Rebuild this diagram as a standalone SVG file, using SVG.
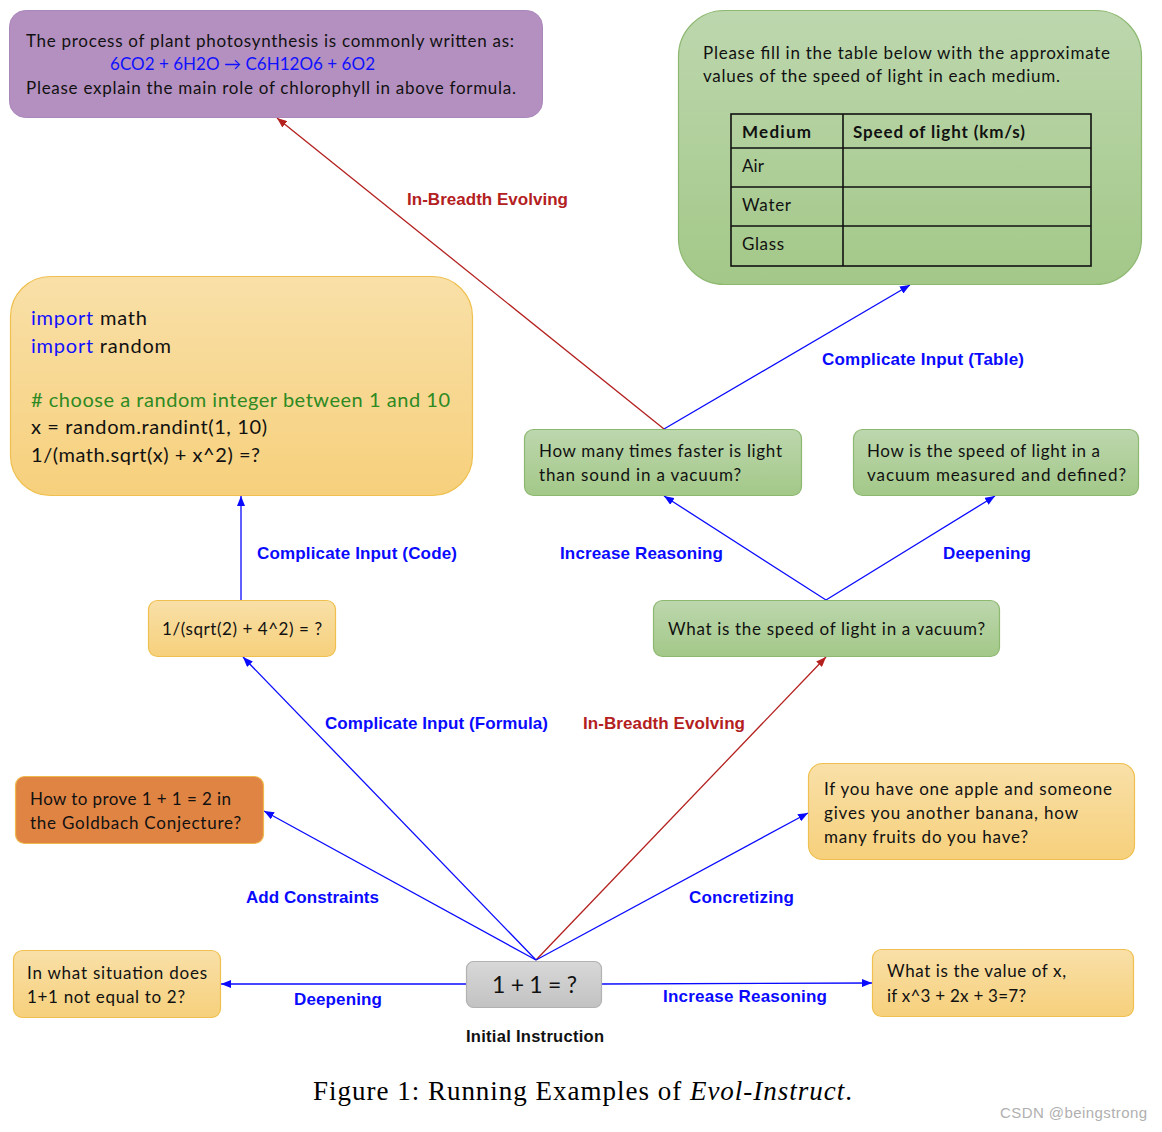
<svg xmlns="http://www.w3.org/2000/svg" width="1162" height="1132" viewBox="0 0 1162 1132">
<style>
.body{font-family:Lato,"Liberation Sans",sans-serif;font-size:17px;fill:#111}
.code{font-family:Lato,"Liberation Sans",sans-serif;font-size:20px;fill:#111}
.lbl{font-family:"Liberation Sans",Arial,sans-serif;font-size:17px;font-weight:bold}
.blue{fill:#0a0aff}
.red{fill:#b3201e}
.cb{stroke:#0a0aff;stroke-width:1.3;fill:none}
.cr{stroke:#b3201e;stroke-width:1.3;fill:none}
.yel{fill:url(#gy);stroke:#efc04f;stroke-width:1.2}
.grn{fill:url(#gg);stroke:#8cb870;stroke-width:1.2}
.tbl{stroke:#111;stroke-width:1.6;fill:none}
</style>
<defs>
<linearGradient id="gy" x1="0" y1="0" x2="0" y2="1"><stop offset="0" stop-color="#f9e0a8"/><stop offset="1" stop-color="#f6d07c"/></linearGradient>
<linearGradient id="gg" x1="0" y1="0" x2="0" y2="1"><stop offset="0" stop-color="#bdd7ae"/><stop offset="1" stop-color="#a3c888"/></linearGradient>
<linearGradient id="gr" x1="0" y1="0" x2="0" y2="1"><stop offset="0" stop-color="#d8d8d8"/><stop offset="1" stop-color="#c2c2c2"/></linearGradient>
<marker id="ab" markerUnits="userSpaceOnUse" markerWidth="10" markerHeight="8" refX="10" refY="4" orient="auto"><path d="M0,0 L10,4 L0,8 z" fill="#0a0aff"/></marker>
<marker id="ar" markerUnits="userSpaceOnUse" markerWidth="10" markerHeight="8" refX="10" refY="4" orient="auto"><path d="M0,0 L10,4 L0,8 z" fill="#b3201e"/></marker>
</defs>
<rect width="1162" height="1132" fill="#fff"/>

<g id="connectors">
<line class="cr" x1="664" y1="429" x2="277" y2="118" marker-end="url(#ar)"/>
<line class="cb" x1="664" y1="429" x2="910" y2="285" marker-end="url(#ab)"/>
<line class="cb" x1="826" y1="600" x2="664" y2="496" marker-end="url(#ab)"/>
<line class="cb" x1="826" y1="600" x2="995" y2="496" marker-end="url(#ab)"/>
<line class="cb" x1="241" y1="600" x2="241" y2="496" marker-end="url(#ab)"/>
<line class="cb" x1="536" y1="960" x2="243" y2="657" marker-end="url(#ab)"/>
<line class="cr" x1="536" y1="960" x2="826" y2="657" marker-end="url(#ar)"/>
<line class="cb" x1="536" y1="960" x2="264" y2="811" marker-end="url(#ab)"/>
<line class="cb" x1="536" y1="960" x2="808" y2="813" marker-end="url(#ab)"/>
<line class="cb" x1="466" y1="984" x2="221" y2="984" marker-end="url(#ab)"/>
<line class="cb" x1="602" y1="984" x2="872" y2="983" marker-end="url(#ab)"/>
<text class="lbl red" x="407" y="205" textLength="161">In-Breadth Evolving</text>
<text class="lbl blue" x="822" y="365" textLength="202">Complicate Input (Table)</text>
<text class="lbl blue" x="257" y="559" textLength="200">Complicate Input (Code)</text>
<text class="lbl blue" x="560" y="559" textLength="163">Increase Reasoning</text>
<text class="lbl blue" x="943" y="559" textLength="88">Deepening</text>
<text class="lbl blue" x="325" y="729" textLength="223">Complicate Input (Formula)</text>
<text class="lbl red" x="583" y="729" textLength="162">In-Breadth Evolving</text>
<text class="lbl blue" x="246" y="903" textLength="133">Add Constraints</text>
<text class="lbl blue" x="689" y="903" textLength="105">Concretizing</text>
<text class="lbl blue" x="294" y="1005" textLength="88">Deepening</text>
<text class="lbl blue" x="663" y="1002" textLength="164">Increase Reasoning</text>
</g>

<g id="node-photosynthesis">
<rect x="9.5" y="10.5" width="533" height="107" rx="16" fill="#b490c0" stroke="#a888b8"/>
<text class="body" x="26" y="47" textLength="488">The process of plant photosynthesis is commonly written as:</text>
<text class="body" x="110" y="70" textLength="265" style="fill:#1010ff">6CO2 + 6H2O → C6H12O6 + 6O2</text>
<text class="body" x="26" y="94" textLength="490">Please explain the main role of chlorophyll in above formula.</text>
</g>

<g id="node-table">
<rect x="678.5" y="10.5" width="463" height="274" rx="46" class="grn"/>
<text class="body" x="703" y="59" textLength="407">Please fill in the table below with the approximate</text>
<text class="body" x="703" y="82" textLength="357">values of the speed of light in each medium.</text>
<rect class="tbl" x="731" y="114" width="360" height="152"/>
<line class="tbl" x1="843" y1="114" x2="843" y2="266"/>
<line class="tbl" x1="731" y1="148" x2="1091" y2="148"/>
<line class="tbl" x1="731" y1="187" x2="1091" y2="187"/>
<line class="tbl" x1="731" y1="226" x2="1091" y2="226"/>
<text class="body" x="742" y="138" font-weight="bold" textLength="69">Medium</text>
<text class="body" x="853" y="138" font-weight="bold" textLength="172">Speed of light (km/s)</text>
<text class="body" x="742" y="172" textLength="22">Air</text>
<text class="body" x="742" y="211" textLength="49">Water</text>
<text class="body" x="742" y="250" textLength="42">Glass</text>
</g>

<g id="node-code">
<rect x="10.5" y="276.5" width="462" height="219" rx="40" class="yel"/>
<text class="code" x="31" y="325" textLength="116"><tspan fill="#1010ff">import</tspan> math</text>
<text class="code" x="31" y="353" textLength="140"><tspan fill="#1010ff">import</tspan> random</text>
<text class="code" x="31" y="407" textLength="419" style="fill:#2d8a23"># choose a random integer between 1 and 10</text>
<text class="code" x="31" y="434" textLength="236">x = random.randint(1, 10)</text>
<text class="code" x="31" y="462" textLength="229">1/(math.sqrt(x) + x^2) =?</text>
</g>

<g id="node-faster">
<rect x="524.5" y="429.5" width="277" height="66" rx="9" class="grn"/>
<text class="body" x="539" y="457" textLength="243">How many times faster is light</text>
<text class="body" x="539" y="481" textLength="202">than sound in a vacuum?</text>
</g>

<g id="node-measured">
<rect x="853.5" y="429.5" width="285" height="66" rx="9" class="grn"/>
<text class="body" x="867" y="457" textLength="233">How is the speed of light in a</text>
<text class="body" x="867" y="481" textLength="259">vacuum measured and defined?</text>
</g>

<g id="node-speed">
<rect x="653.5" y="600.5" width="346" height="56" rx="9" class="grn"/>
<text class="body" x="668" y="635" textLength="317">What is the speed of light in a vacuum?</text>
</g>

<g id="node-formula">
<rect x="148.5" y="600.5" width="187" height="56" rx="9" class="yel"/>
<text class="body" x="162" y="635" textLength="160">1/(sqrt(2) + 4^2) = ?</text>
</g>

<g id="node-goldbach">
<rect x="15.5" y="776.5" width="248" height="67" rx="9" fill="#e08444" stroke="#efb84c" stroke-width="1.2"/>
<text class="body" x="30" y="805" textLength="201">How to prove 1 + 1 = 2 in</text>
<text class="body" x="30" y="829" textLength="211">the Goldbach Conjecture?</text>
</g>

<g id="node-apple">
<rect x="808.5" y="763.5" width="326" height="96" rx="14" class="yel"/>
<text class="body" x="824" y="795" textLength="288">If you have one apple and someone</text>
<text class="body" x="824" y="819" textLength="254">gives you another banana, how</text>
<text class="body" x="824" y="843" textLength="204">many fruits do you have?</text>
</g>

<g id="node-situation">
<rect x="13.5" y="950.5" width="207" height="67" rx="9" class="yel"/>
<text class="body" x="27" y="979" textLength="180">In what situation does</text>
<text class="body" x="27" y="1003" textLength="158">1+1 not equal to 2?</text>
</g>

<g id="node-initial">
<rect x="466.5" y="961.5" width="135" height="46" rx="7" fill="url(#gr)" stroke="#b2b2b2" stroke-width="1.2"/>
<text x="492" y="993" font-family="Lato,'Liberation Sans',sans-serif" font-size="23" fill="#111" textLength="85">1 + 1 = ?</text>
<text x="466" y="1042" font-family="'Liberation Sans',Arial,sans-serif" font-size="16.5" font-weight="bold" fill="#111" textLength="138">Initial Instruction</text>
</g>

<g id="node-value">
<rect x="872.5" y="949.5" width="261" height="67" rx="9" class="yel"/>
<text class="body" x="887" y="977" textLength="179">What is the value of x,</text>
<text class="body" x="887" y="1002" textLength="139">if x^3 + 2x + 3=7?</text>
</g>

<text x="313" y="1100" font-family="'Liberation Serif','Times New Roman',serif" font-size="27" fill="#000" textLength="539">Figure 1: Running Examples of <tspan font-style="italic">Evol-Instruct</tspan>.</text>
<text x="1000" y="1118" font-family="'Liberation Sans',Arial,sans-serif" font-size="15" fill="#b0b0b0" textLength="147">CSDN @beingstrong</text>
</svg>
